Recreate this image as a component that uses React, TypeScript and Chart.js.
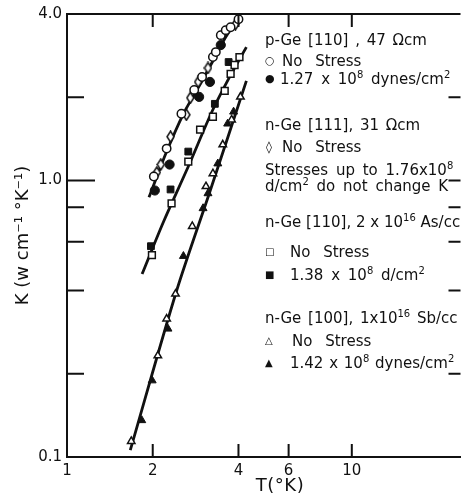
import React, { useEffect, useRef } from "react";
import { Chart, registerables } from "chart.js";

Chart.register(...registerables);

// ---- axis ticks ----
const xTickValues = [1, 2, 4, 6, 10];
const xInnerTicks = [2, 4, 6, 10];
const yTickValues = [0.1, 1, 4];
const yMinorTicks = [0.2, 0.4, 0.6, 0.8, 2];
const yMajorInner = [1];

// ---- p-Ge [110], 47 ohm cm ----
const pGeOpenT = [2.018, 2.238, 2.522, 2.797, 2.98, 3.253, 3.331, 3.467, 3.608, 3.754, 4.001];
const pGeOpenK = [1.034, 1.304, 1.743, 2.126, 2.368, 2.795, 2.913, 3.354, 3.496, 3.584, 3.83];
const pGeStressT = [2.034, 2.292, 2.91, 3.176, 3.467];
const pGeStressK = [0.92, 1.142, 2.006, 2.272, 3.088];

// ---- n-Ge [111], 31 ohm cm ----
const nGe111T = [2.067, 2.134, 2.31, 2.624, 2.709, 2.887, 3.126, 3.906];
const nGe111K = [1.069, 1.142, 1.44, 1.728, 1.99, 2.272, 2.552, 3.674];

// ---- n-Ge [110], 2e16 As/cc ----
const nGe110OpenT = [1.987, 2.329, 2.666, 2.933, 3.253, 3.579, 3.754, 3.876, 4.032];
const nGe110OpenK = [0.537, 0.826, 1.171, 1.526, 1.7, 2.109, 2.428, 2.616, 2.795];
const nGe110StressT = [1.971, 2.31, 2.666, 3.305, 3.694];
const nGe110StressK = [0.5785, 0.928, 1.272, 1.893, 2.681];

// ---- n-Ge [100], 1e16 Sb/cc ----
const nGe100OpenT = [1.681, 2.084, 2.238, 2.404, 2.753, 3.076, 3.253, 3.523, 3.784, 4.064];
const nGe100OpenK = [0.114, 0.2325, 0.316, 0.3887, 0.6832, 0.9515, 1.06, 1.348, 1.658, 2.006];
const nGe100StressT = [1.83, 1.991, 2.262, 2.563, 3.004, 3.126, 3.385, 3.665, 3.845];
const nGe100StressK = [0.1357, 0.189, 0.2908, 0.5326, 0.7929, 0.8979, 1.151, 1.604, 1.772];

// ---- drawn curves ----
const curve1T = [1.94, 2.238, 2.563, 2.887, 3.253, 3.608, 4.001];
const curve1K = [0.869, 1.272, 1.743, 2.162, 2.704, 3.299, 3.894];
const curve2T = [1.835, 2.186, 2.666, 3.227, 3.724, 4.264];
const curve2K = [0.4587, 0.7118, 1.123, 1.772, 2.368, 3.037];
const curve3T = [1.668, 2.424, 3.176, 4.264];
const curve3K = [0.1058, 0.3984, 0.9128, 2.291];

const X_MIN = 1;
const X_MAX = 24.08;
const Y_MIN = 0.1;
const Y_MAX = 4.0;

const FONT = "'DejaVu Sans', sans-serif";
const INK = "#111";

const pts = (xs: number[], ys: number[]) => xs.map((x, i) => ({ x, y: ys[i] }));

function makeDiamond(): HTMLCanvasElement {
  const c = document.createElement("canvas");
  c.width = 9;
  c.height = 13;
  const g = c.getContext("2d")!;
  g.beginPath();
  g.moveTo(4.5, 1);
  g.lineTo(8, 6.5);
  g.lineTo(4.5, 12);
  g.lineTo(1, 6.5);
  g.closePath();
  g.fillStyle = "#fff";
  g.fill();
  g.lineWidth = 1.5;
  g.strokeStyle = INK;
  g.stroke();
  return c;
}

const innerTicks = {
  id: "innerTicks",
  afterDraw(chart: any) {
    const { ctx, chartArea, scales } = chart;
    const { left, right, top, bottom } = chartArea;
    ctx.save();
    ctx.strokeStyle = INK;
    ctx.lineWidth = 2;
    ctx.beginPath();
    ctx.moveTo(left - 1, top);
    ctx.lineTo(right, top);
    for (const v of xInnerTicks) {
      const px = scales.x.getPixelForValue(v);
      ctx.moveTo(px, bottom);
      ctx.lineTo(px, bottom - 13);
      ctx.moveTo(px, top);
      ctx.lineTo(px, top + 13);
    }
    for (const v of yMinorTicks) {
      const py = scales.y.getPixelForValue(v);
      ctx.moveTo(left, py);
      ctx.lineTo(left + 17, py);
      ctx.moveTo(right, py);
      ctx.lineTo(right - 12, py);
    }
    for (const v of yMajorInner) {
      const py = scales.y.getPixelForValue(v);
      ctx.moveTo(left, py);
      ctx.lineTo(left + 28, py);
      ctx.moveTo(right, py);
      ctx.lineTo(right - 12, py);
    }
    ctx.stroke();
    ctx.restore();
  },
};

const sup = (t: string) => (
  <span style={{ fontSize: 10, position: "relative", top: -6, letterSpacing: 0 }}>{t}</span>
);

const Row = ({ x, y, children, size, ws }: any) => (
  <div
    style={{
      position: "absolute",
      left: x,
      top: y - 9,
      lineHeight: "18px",
      whiteSpace: "nowrap",
      fontSize: size || 15,
      wordSpacing: ws === undefined ? 3 : ws,
    }}
  >
    {children}
  </div>
);

export default function App() {
  const ref = useRef<HTMLCanvasElement | null>(null);

  useEffect(() => {
    if (!ref.current) return;
    const diamond = makeDiamond();
    const open = { backgroundColor: "#fff", borderColor: INK, borderWidth: 1.5 };
    const filled = { backgroundColor: INK, borderColor: INK, borderWidth: 1 };
    const curve = {
      type: "line" as const,
      borderColor: INK,
      borderWidth: 2.8,
      pointRadius: 0,
      tension: 0.3,
      fill: false,
      order: 5,
    };
    const chart = new Chart(ref.current, {
      type: "scatter",
      data: {
        datasets: [
          { label: "p-Ge no stress", data: pts(pGeOpenT, pGeOpenK), pointStyle: "circle", pointRadius: 4.2, ...open, order: 1 },
          { label: "p-Ge stress", data: pts(pGeStressT, pGeStressK), pointStyle: "circle", pointRadius: 4.6, ...filled, order: 1 },
          { label: "n-Ge[111] no stress", data: pts(nGe111T, nGe111K), pointStyle: diamond, pointRadius: 5, ...open, order: 1 },
          { label: "n-Ge[110] no stress", data: pts(nGe110OpenT, nGe110OpenK), pointStyle: "rect", pointRadius: 4.8, ...open, order: 1 },
          { label: "n-Ge[110] stress", data: pts(nGe110StressT, nGe110StressK), pointStyle: "rect", pointRadius: 4.8, ...filled, order: 1 },
          { label: "n-Ge[100] no stress", data: pts(nGe100OpenT, nGe100OpenK), pointStyle: "triangle", pointRadius: 4.3, ...open, order: 1 },
          { label: "n-Ge[100] stress", data: pts(nGe100StressT, nGe100StressK), pointStyle: "triangle", pointRadius: 4.6, ...filled, order: 1 },
          { label: "curve1", data: pts(curve1T, curve1K), ...curve } as any,
          { label: "curve2", data: pts(curve2T, curve2K), ...curve } as any,
          { label: "curve3", data: pts(curve3T, curve3K), ...curve } as any,
        ],
      },
      options: {
        animation: false,
        responsive: false,
        maintainAspectRatio: false,
        layout: { padding: { left: 0, top: 12, right: 0, bottom: 0 } },
        plugins: { legend: { display: false }, tooltip: { enabled: false } },
        scales: {
          x: {
            type: "logarithmic",
            position: "bottom",
            min: X_MIN,
            max: X_MAX,
            grid: { display: false, drawTicks: false, tickLength: 0 },
            border: { display: true, color: INK, width: 2 },
            afterBuildTicks: (s: any) => {
              s.ticks = xTickValues.map((v) => ({ value: v }));
            },
            afterFit: (s: any) => {
              s.height = 44;
            },
            ticks: {
              autoSkip: false,
              maxRotation: 0,
              padding: 5,
              color: INK,
              font: { family: FONT, size: 15 },
              callback: (v: any) => String(v),
            },
            title: { display: false },
          },
          y: {
            type: "logarithmic",
            position: "left",
            min: Y_MIN,
            max: Y_MAX,
            grid: { display: false, drawTicks: false, tickLength: 0 },
            border: { display: true, color: INK, width: 2 },
            afterBuildTicks: (s: any) => {
              s.ticks = yTickValues.map((v) => ({ value: v }));
            },
            afterFit: (s: any) => {
              s.width = 67;
            },
            ticks: {
              autoSkip: false,
              padding: 5,
              color: INK,
              font: { family: FONT, size: 15 },
              callback: (v: any) => Number(v).toFixed(1),
            },
            title: {
              display: true,
              text: "K (w cm⁻¹ °K⁻¹)",
              color: INK,
              font: { family: FONT, size: 18 },
              padding: { top: 13, bottom: 0 },
            },
          },
        },
      },
      plugins: [innerTicks],
    });
    return () => chart.destroy();
  }, []);

  return (
    <div
      style={{
        position: "absolute",
        left: 0,
        top: 0,
        width: 467,
        height: 501,
        overflow: "hidden",
        background: "#fff",
        fontFamily: FONT,
        color: INK,
      }}
    >
      <canvas ref={ref} width={467} height={501} style={{ position: "absolute", left: 0, top: 0, width: 467, height: 501 }} />
      <div style={{ position: "absolute", left: 0, top: 0, width: 467, height: 501 }}>
        <Row x={265} y={40} ws={2}>p-Ge [110] , 47 Ωcm</Row>
        <Row x={265} y={61} size={11}>○</Row>
        <Row x={282} y={61} ws={8}>No Stress</Row>
        <Row x={265} y={79} size={11}>●</Row>
        <Row x={280} y={79}>1.27 x 10{sup("8")} dynes/cm{sup("2")}</Row>

        <Row x={265} y={125} ws={2}>n-Ge [111], 31 Ωcm</Row>
        <Row x={266} y={147} size={12}>◊</Row>
        <Row x={282} y={147} ws={8}>No Stress</Row>
        <Row x={265} y={170}>Stresses up to 1.76x10{sup("8")}</Row>
        <Row x={265} y={186}>d/cm{sup("2")} do not change K</Row>

        <Row x={265} y={222} ws={0}>n-Ge [110], 2 x 10{sup("16")} As/cc</Row>
        <Row x={265} y={252} size={10}>□</Row>
        <Row x={290} y={252} ws={8}>No Stress</Row>
        <Row x={265} y={275} size={10}>■</Row>
        <Row x={290} y={275}>1.38 x 10{sup("8")} d/cm{sup("2")}</Row>

        <Row x={265} y={318} ws={2}>n-Ge [100], 1x10{sup("16")} Sb/cc</Row>
        <Row x={265} y={341} size={10}>△</Row>
        <Row x={292} y={341} ws={8}>No Stress</Row>
        <Row x={265} y={363} size={10}>▲</Row>
        <Row x={290} y={363} ws={1}>1.42 x 10{sup("8")} dynes/cm{sup("2")}</Row>

        <div
          style={{
            position: "absolute",
            left: 280,
            top: 484,
            transform: "translate(-50%, -50%)",
            fontSize: 18,
            whiteSpace: "nowrap",
            letterSpacing: 0.5,
          }}
        >
          T(°K)
        </div>
      </div>
    </div>
  );
}
